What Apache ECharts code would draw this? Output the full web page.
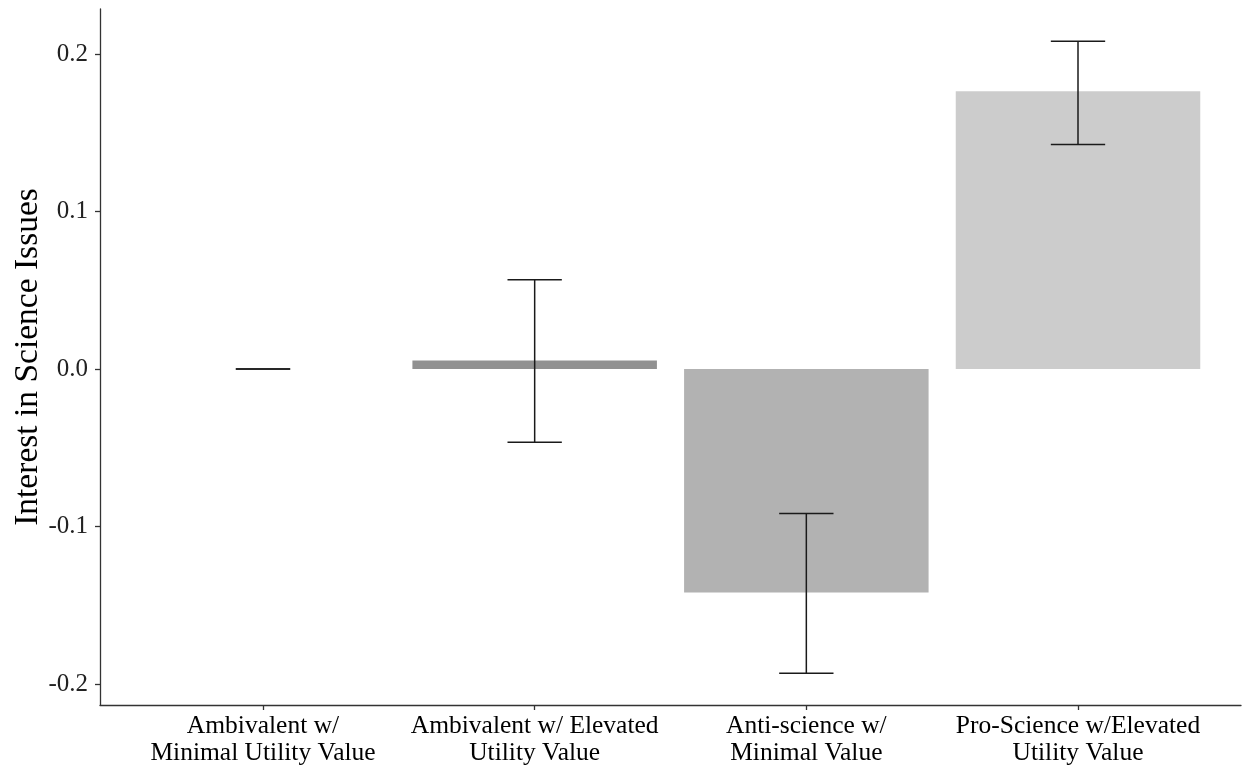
<!DOCTYPE html>
<html>
<head>
<meta charset="utf-8">
<title>Interest in Science Issues</title>
<script src="https://cdn.jsdelivr.net/npm/echarts@6/dist/echarts.min.js"></script>
<style>
  html, body { margin: 0; padding: 0; background: #ffffff; }
  #chart { width: 1242px; height: 771px; }
</style>
</head>
<body>
<div id="chart"></div>
<script>
// Group labels (two lines each, as set under the axis)
const categories = [
  'Ambivalent w/\nMinimal Utility Value',
  'Ambivalent w/ Elevated\nUtility Value',
  'Anti-science w/\nMinimal Value',
  'Pro-Science w/Elevated\nUtility Value'
];
// Estimated mean interest per group
const means = [0.0, 0.0055, -0.1419, 0.1764];
// Lower / upper ends of the error bars
const lowerCI = [0.0, -0.0464, -0.1931, 0.1425];
const upperCI = [0.0, 0.0567, -0.0917, 0.2081];
// Fill shade per group
const barColors = ['#333333', '#919191', '#b2b2b2', '#cccccc'];
// Y tick positions
const yTicks = [-0.2, -0.1, 0.0, 0.1, 0.2];
const xPositions = categories.map((_, i) => i + 1);

const serif = '"Liberation Serif", "Times New Roman", serif';
const axisColor = '#333333';

const chart = echarts.init(document.getElementById('chart'), null, { renderer: 'canvas' });

const barData = means.map((v, i) => [xPositions[i], v]);
const errData = means.map((_, i) => [xPositions[i], lowerCI[i], upperCI[i]]);

const option = {
  backgroundColor: '#ffffff',
  animation: false,
  grid: { left: 100, right: 1, top: 9, bottom: 66, containLabel: false, outerBoundsMode: 'none' },
  xAxis: {
    type: 'value',
    min: 0.4,
    max: 4.6,
    splitLine: { show: false },
    axisLine: { show: true, onZero: false, lineStyle: { color: axisColor, width: 1.3 } },
    axisTick: { show: true, customValues: xPositions, length: 5, lineStyle: { color: axisColor, width: 1.3 } },
    axisLabel: {
      customValues: xPositions,
      margin: 8,
      fontFamily: serif,
      fontSize: 25.5,
      lineHeight: 27,
      color: '#000000',
      align: 'center',
      formatter: (v) => categories[Math.round(v) - 1] || ''
    }
  },
  yAxis: {
    type: 'value',
    min: -0.2133,
    max: 0.2286,
    name: 'Interest in Science Issues',
    nameLocation: 'middle',
    nameGap: 55,
    nameMoveOverlap: false,
    nameRotate: 90,
    nameTextStyle: { fontFamily: serif, fontSize: 33.5, color: '#000000' },
    splitLine: { show: false },
    axisLine: { show: true, lineStyle: { color: axisColor, width: 1.3 } },
    axisTick: { show: true, customValues: yTicks, length: 5, lineStyle: { color: axisColor, width: 1.3 } },
    axisLabel: {
      customValues: yTicks,
      margin: 12,
      fontFamily: serif,
      fontSize: 25,
      color: '#222222',
      formatter: (v) => v.toFixed(1)
    }
  },
  series: [
    {
      name: 'mean',
      type: 'custom',
      data: barData,
      encode: { x: 0, y: 1 },
      renderItem: function (params, api) {
        const x = api.value(0);
        const v = api.value(1);
        const p0 = api.coord([x - 0.45, 0]);
        const p1 = api.coord([x + 0.45, v]);
        return {
          type: 'rect',
          shape: {
            x: p0[0],
            y: Math.min(p0[1], p1[1]),
            width: p1[0] - p0[0],
            height: Math.abs(p1[1] - p0[1])
          },
          style: { fill: barColors[params.dataIndex] }
        };
      }
    },
    {
      name: 'interval',
      type: 'custom',
      data: errData,
      encode: { x: 0, y: [1, 2] },
      z: 3,
      renderItem: function (params, api) {
        const x = api.value(0);
        const lo = api.coord([x, api.value(1)]);
        const hi = api.coord([x, api.value(2)]);
        const half = api.size([0.1, 0])[0];
        const st = { stroke: '#1a1a1a', lineWidth: 1.5 };
        return {
          type: 'group',
          children: [
            { type: 'line', shape: { x1: hi[0], y1: hi[1], x2: lo[0], y2: lo[1] }, style: st },
            { type: 'line', shape: { x1: hi[0] - half, y1: hi[1], x2: hi[0] + half, y2: hi[1] }, style: st },
            { type: 'line', shape: { x1: lo[0] - half, y1: lo[1], x2: lo[0] + half, y2: lo[1] }, style: st }
          ]
        };
      }
    }
  ]
};

chart.setOption(option);
</script>
</body>
</html>
